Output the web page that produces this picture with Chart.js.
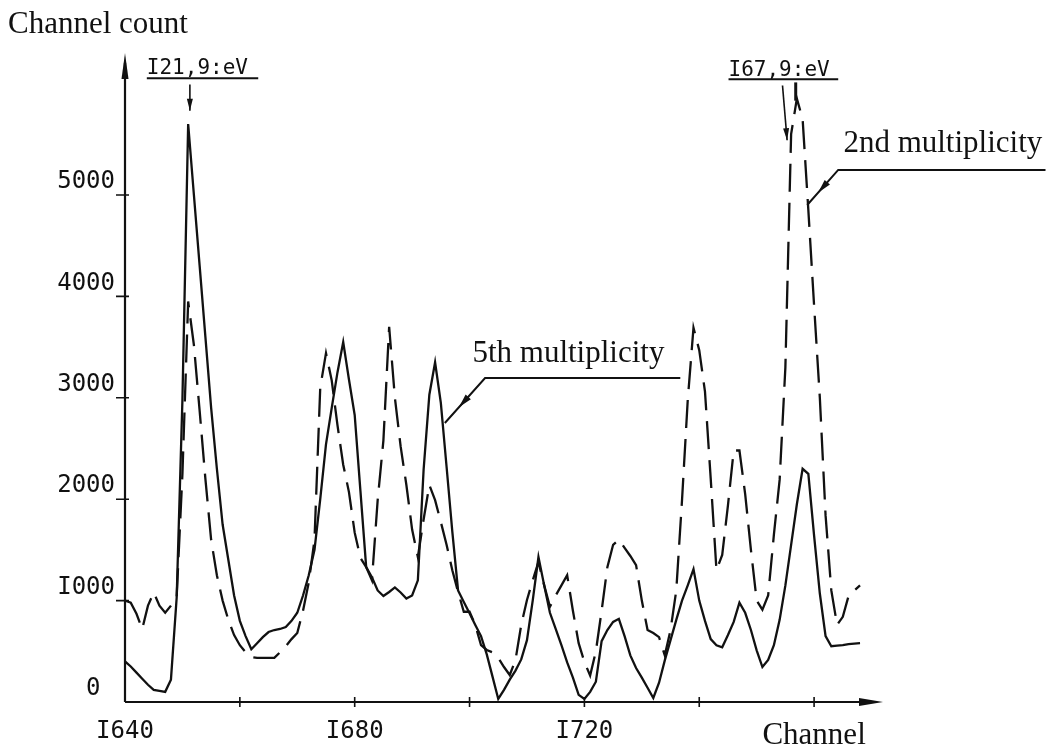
<!DOCTYPE html>
<html>
<head>
<meta charset="utf-8">
<script src="https://cdn.jsdelivr.net/npm/chart.js@4.4.1/dist/chart.umd.min.js"></script>
<style>
  html, body { margin: 0; padding: 0; background: #fff; }
  #spectrum { display: block; }
</style>
</head>
<body>
<canvas id="spectrum" width="1058" height="750"></canvas>
<script>
// channel numbers (one point per channel)
const channels = [
  1640, 1641, 1642, 1643, 1644, 1645, 1646, 1647, 1648, 1649,
  1650, 1651, 1652, 1653, 1654, 1655, 1656, 1657, 1658, 1659,
  1660, 1661, 1662, 1663, 1664, 1665, 1666, 1667, 1668, 1669,
  1670, 1671, 1672, 1673, 1674, 1675, 1676, 1677, 1678, 1679,
  1680, 1681, 1682, 1683, 1684, 1685, 1686, 1687, 1688, 1689,
  1690, 1691, 1692, 1693, 1694, 1695, 1696, 1697, 1698, 1699,
  1700, 1701, 1702, 1703, 1704, 1705, 1706, 1707, 1708, 1709,
  1710, 1711, 1712, 1713, 1714, 1715, 1716, 1717, 1718, 1719,
  1720, 1721, 1722, 1723, 1724, 1725, 1726, 1727, 1728, 1729,
  1730, 1731, 1732, 1733, 1734, 1735, 1736, 1737, 1738, 1739,
  1740, 1741, 1742, 1743, 1744, 1745, 1746, 1747, 1748, 1749,
  1750, 1751, 1752, 1753, 1754, 1755, 1756, 1757, 1758, 1759,
  1760, 1761, 1762, 1763, 1764, 1765, 1766, 1767, 1768
];

// 5th multiplicity (solid line)
const fifthCounts = [
  400, 350, 290, 230, 170, 120, 110, 100, 220, 1030,
  2980, 5700, 5000, 4300, 3600, 2900, 2300, 1750, 1400, 1050,
  800, 650, 520, 580, 640, 690, 710, 720, 740, 800,
  880, 1050, 1250, 1500, 2000, 2540, 2900, 3250, 3550, 3180,
  2830, 2080, 1330, 1230, 1100, 1045, 1085, 1130, 1080, 1020,
  1050, 1200, 2290, 3030, 3350, 2950, 2320, 1680, 1100, 985,
  875, 760, 650, 470, 250, 30, 120, 220, 310, 420,
  610, 1000, 1430, 1150, 880, 720, 560, 390, 240, 70,
  30, 100, 200, 600, 710, 790, 820, 650, 460, 335,
  240, 140, 40, 190, 410, 610, 810, 1000, 1150, 1310,
  1000, 800, 620, 560, 540, 660, 790, 980, 880, 710,
  510, 345, 415, 560, 810, 1150, 1550, 1950, 2300, 2250,
  1640, 1070, 650, 550, 555, 560, 570, 575, 580
];

// 2nd multiplicity (dashed line)
const secondCounts = [
  1000, 980, 870, 720, 950, 1080, 950, 880, 950, 1040,
  2250, 3950, 3520, 2870, 2200, 1600, 1250, 1000, 810, 660,
  560, 490, 444, 435, 435, 435, 435, 490, 550, 620,
  680, 900, 1180, 1600, 3100, 3440, 3170, 2730, 2340, 2070,
  1670, 1420, 1330, 1200, 1990, 2580, 3700, 3000, 2520, 2140,
  1700, 1430, 1800, 2140, 1990, 1775, 1550, 1300, 1085, 890,
  890, 760, 560, 513, 490, 434, 345, 266, 414, 760,
  1006, 1200, 1380, 1150, 940, 1050, 1150, 1250, 900, 580,
  395, 260, 500, 900, 1330, 1550, 1600, 1520, 1440, 1350,
  1000, 710, 680, 640, 460, 710, 1100, 1990, 2980, 3690,
  3470, 3060, 2200, 1300, 1450, 1940, 2480, 2480, 2050, 1500,
  1000, 910, 1050, 1650, 2190, 3300, 5600, 5950, 5750, 4850,
  3910, 3000, 1840, 1100, 760, 840, 1045, 1100, 1150
];

const xTickValues = [1640, 1660, 1680, 1700, 1720, 1740, 1760];
const xTickLabels = ['I640', '', 'I680', '', 'I720', '', 'Channel'];
const yTickValues = [0, 1000, 2000, 3000, 4000, 5000];
const yTickLabels = ['0\u2002', 'I000', '2000', '3000', '4000', '5000'];

// peak markers: label, underline span, arrow
const peakNotes = [
  { text: 'I21,9:eV', ch: 1643.8, val: 6190, lineFrom: 1643.8, lineTo: 1663.2, lineVal: 6150,
    arrows: [{ ch0: 1651.3, v0: 6090, ch1: 1651.3, v1: 5830, head: true }] },
  { text: 'I67,9:eV', ch: 1745.1, val: 6170, lineFrom: 1745.1, lineTo: 1764.2, lineVal: 6140,
    arrows: [{ ch0: 1754.5, v0: 6080, ch1: 1755.3, v1: 5540, head: true },
             { ch0: 1756.8, v0: 6110, ch1: 1756.8, v1: 5930, head: false }] }
];

// series callouts
const callouts = [
  { text: '5th multiplicity', ch: 1700.5, val: 3353,
    path: [[1736.7, 3195], [1702.7, 3195], [1695.7, 2751]] },
  { text: '2nd multiplicity', ch: 1765.1, val: 5423,
    path: [[1800.3, 5247], [1764.2, 5247], [1758.8, 4901]] }
];

const ink = '#111';

function arrowHead(ctx, x0, y0, x1, y1, len, half) {
  const a = Math.atan2(y1 - y0, x1 - x0);
  ctx.beginPath();
  ctx.moveTo(x1, y1);
  ctx.lineTo(x1 - len * Math.cos(a) + half * Math.sin(a), y1 - len * Math.sin(a) - half * Math.cos(a));
  ctx.lineTo(x1 - len * Math.cos(a) - half * Math.sin(a), y1 - len * Math.sin(a) + half * Math.cos(a));
  ctx.closePath();
  ctx.fill();
}

const sketchMarks = {
  id: 'sketchMarks',
  afterDraw(chart) {
    const { ctx, chartArea: area, scales: { x, y } } = chart;
    ctx.save();
    ctx.strokeStyle = ink;
    ctx.fillStyle = ink;
    ctx.setLineDash([]);

    // axes with arrows
    ctx.lineWidth = 2.2;
    ctx.beginPath();
    ctx.moveTo(area.left, area.bottom);
    ctx.lineTo(area.left, area.top + 10);
    ctx.moveTo(area.left, area.bottom);
    ctx.lineTo(area.right - 10, area.bottom);
    ctx.stroke();
    arrowHead(ctx, area.left, area.bottom, area.left, area.top, 26, 3.5);
    arrowHead(ctx, area.left, area.bottom, area.right, area.bottom, 24, 4);

    ctx.lineWidth = 1.6;
    ctx.beginPath();
    xTickValues.slice(1).forEach(v => {
      const px = x.getPixelForValue(v);
      ctx.moveTo(px, area.bottom - 5);
      ctx.lineTo(px, area.bottom + 5);
    });
    yTickValues.slice(1).forEach(v => {
      const py = y.getPixelForValue(v);
      ctx.moveTo(area.left - 9, py);
      ctx.lineTo(area.left + 4, py);
    });
    ctx.stroke();

    // y axis title
    ctx.font = '31px "Liberation Serif"';
    ctx.textAlign = 'left';
    ctx.textBaseline = 'alphabetic';
    ctx.fillText('Channel count', 8, 33);

    // peak energies
    peakNotes.forEach(n => {
      ctx.font = '21px "DejaVu Sans Mono"';
      ctx.fillText(n.text, x.getPixelForValue(n.ch), y.getPixelForValue(n.val));
      ctx.lineWidth = 2;
      ctx.beginPath();
      ctx.moveTo(x.getPixelForValue(n.lineFrom), y.getPixelForValue(n.lineVal));
      ctx.lineTo(x.getPixelForValue(n.lineTo), y.getPixelForValue(n.lineVal));
      ctx.stroke();
      n.arrows.forEach(a => {
        const x0 = x.getPixelForValue(a.ch0), y0 = y.getPixelForValue(a.v0);
        const x1 = x.getPixelForValue(a.ch1), y1 = y.getPixelForValue(a.v1);
        ctx.lineWidth = a.head ? 1.6 : 3;
        ctx.beginPath();
        ctx.moveTo(x0, y0);
        ctx.lineTo(x1, y1);
        ctx.stroke();
        if (a.head) arrowHead(ctx, x0, y0, x1, y1, 12, 3);
      });
    });

    // callouts
    callouts.forEach(c => {
      ctx.font = '31px "Liberation Serif"';
      ctx.fillText(c.text, x.getPixelForValue(c.ch), y.getPixelForValue(c.val));
      const pts = c.path.map(p => [x.getPixelForValue(p[0]), y.getPixelForValue(p[1])]);
      ctx.lineWidth = 2;
      ctx.beginPath();
      ctx.moveTo(pts[0][0], pts[0][1]);
      pts.slice(1).forEach(p => ctx.lineTo(p[0], p[1]));
      ctx.stroke();
      const a = pts[pts.length - 2], b = pts[pts.length - 1];
      const mx = a[0] + (b[0] - a[0]) * 0.65, my = a[1] + (b[1] - a[1]) * 0.65;
      arrowHead(ctx, a[0], a[1], mx, my, 14, 3.5);
    });
    ctx.restore();
  }
};

const lineStyle = { borderColor: ink, borderWidth: 2.3, pointRadius: 0, tension: 0, fill: false };

new Chart(document.getElementById('spectrum').getContext('2d'), {
  type: 'line',
  data: {
    datasets: [
      Object.assign({ label: '5th multiplicity',
        data: channels.map((c, i) => ({ x: c, y: fifthCounts[i] })) }, lineStyle),
      Object.assign({ label: '2nd multiplicity', borderDash: [28, 11],
        data: channels.map((c, i) => ({ x: c, y: secondCounts[i] })) }, lineStyle)
    ]
  },
  options: {
    responsive: false,
    animation: false,
    layout: { padding: { top: 53, right: 175, bottom: 0, left: 0 } },
    plugins: { legend: { display: false }, tooltip: { enabled: false } },
    scales: {
      x: {
        type: 'linear',
        min: 1640,
        max: 1772,
        grid: { display: false, drawTicks: false },
        border: { display: false },
        afterBuildTicks: axis => { axis.ticks = xTickValues.map(v => ({ value: v })); },
        afterFit: axis => { axis.height = 48; },
        ticks: {
          autoSkip: false,
          maxRotation: 0,
          padding: 15,
          color: ink,
          font: c => (c.tick && c.tick.value === 1760)
            ? { family: '"Liberation Serif"', size: 31 }
            : { family: '"DejaVu Sans Mono"', size: 24 },
          callback: (v, i) => xTickLabels[i]
        }
      },
      y: {
        min: 0,
        max: 6400,
        grid: { display: false, drawTicks: false },
        border: { display: false },
        afterBuildTicks: axis => { axis.ticks = yTickValues.map(v => ({ value: v })); },
        afterFit: axis => { axis.width = 125; },
        ticks: {
          padding: 10,
          labelOffset: -13,
          color: ink,
          font: { family: '"DejaVu Sans Mono"', size: 24 },
          callback: (v, i) => yTickLabels[i]
        }
      }
    }
  },
  plugins: [sketchMarks]
});
</script>
</body>
</html>
